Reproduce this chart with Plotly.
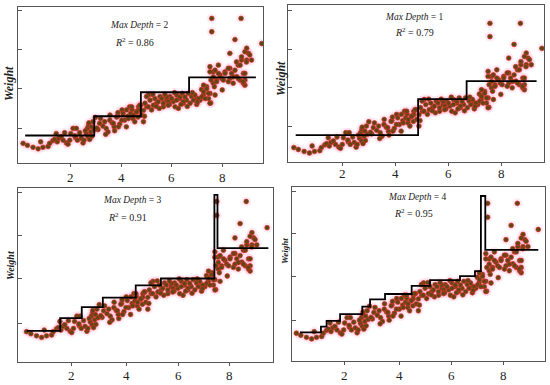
import plotly.graph_objects as go

# ---- scatter data (length vs weight), shared by all four panels ----
length = [0.16, 0.33, 0.55, 0.75, 0.85, 0.94, 1.14, 1.20, 1.33, 1.40, 1.50, 1.46, 1.56, 1.73, 1.79,
          1.86, 1.92, 1.99, 2.03, 2.12, 2.21, 2.25, 2.29, 2.38, 2.44, 2.51, 2.55, 2.64, 2.68, 2.71,
          2.73, 2.74, 2.77, 2.81, 2.84, 2.86, 2.90, 2.94, 2.99, 3.10, 3.16, 3.20, 3.29, 3.36, 3.42,
          3.49, 3.56, 3.65, 3.73, 3.75, 3.86, 3.88, 3.95, 4.04, 4.08, 4.14, 4.21, 4.27, 4.34, 4.38,
          4.43, 4.47, 4.54, 4.60, 4.67, 4.69, 4.77, 4.80, 4.22, 4.42, 4.48, 4.29, 4.03, 3.83, 3.70,
          3.57, 3.90, 4.88, 5.01, 5.20, 5.40, 5.53, 5.66, 5.79, 5.92, 6.05, 6.18, 6.31, 6.44, 6.57,
          6.77, 6.97, 7.10, 7.23, 7.43, 7.49, 7.36, 7.62, 7.75, 7.88, 8.08, 8.27, 8.40, 8.54, 8.67,
          8.80, 8.93, 9.00, 8.93, 8.27, 8.73, 8.86, 7.62, 7.49, 7.82, 8.60, 8.80, 8.86, 8.27, 7.52,
          7.16, 7.56, 7.56, 8.71, 8.47, 9.52, 8.53, 8.86, 9.05, 9.12, 8.73, 8.92, 8.67, 8.47, 8.34,
          8.21, 8.08, 7.95, 7.82, 7.69, 7.62, 7.49, 7.53, 7.75, 8.02, 8.21, 8.40, 8.60, 8.79, 8.86,
          7.97, 7.66, 7.36, 7.43, 7.24, 7.17, 7.30, 7.49, 7.03, 6.90, 6.84, 6.71, 6.51, 6.44, 6.31,
          6.18, 6.12, 5.99, 5.86, 5.79, 5.66, 5.60, 5.46, 5.33, 5.27, 5.14, 5.07, 4.94, 4.88, 4.74,
          4.68, 4.61, 6.25, 6.97, 6.64, 7.69, 7.24, 5.08, 5.25, 5.50, 5.72, 5.90, 6.10, 6.35, 6.60,
          6.80, 5.00, 4.92, 5.38, 5.85, 6.40, 7.00, 3.05, 3.40, 2.60, 2.20, 1.65]
weight = [0.61, 0.56, 0.51, 0.47, 0.65, 0.51, 0.53, 0.61, 0.68, 0.71, 0.65, 0.86, 0.74, 0.69, 0.88,
          0.62, 0.59, 0.69, 0.86, 0.99, 0.76, 0.99, 0.69, 0.88, 0.74, 0.62, 0.69, 0.85, 0.99, 0.78,
          1.07, 1.13, 0.71, 0.90, 1.03, 0.79, 1.16, 0.95, 1.27, 0.96, 1.12, 1.24, 1.05, 1.16, 0.99,
          0.90, 1.20, 1.13, 1.03, 0.93, 1.30, 1.39, 1.10, 1.46, 1.37, 1.20, 1.03, 1.30, 1.54, 1.37,
          1.47, 1.24, 1.16, 1.41, 1.28, 1.54, 1.58, 1.33, 1.46, 1.54, 1.33, 1.24, 1.20, 1.28, 1.12,
          1.33, 1.03, 1.16, 1.54, 1.46, 1.63, 1.80, 1.54, 1.71, 1.80, 1.67, 1.84, 1.75, 1.63, 1.71,
          1.80, 1.75, 1.71, 1.84, 1.75, 1.88, 2.05, 2.14, 2.22, 2.35, 2.43, 2.52, 2.14, 2.31, 2.22,
          2.39, 2.73, 2.90, 3.03, 2.90, 2.73, 2.09, 2.43, 2.56, 2.60, 2.60, 2.14, 2.22, 2.26, 1.64,
          1.98, 3.79, 3.45, 3.79, 3.25, 3.15, 2.68, 2.94, 2.86, 2.73, 2.81, 2.68, 2.60, 2.47, 2.39,
          2.52, 2.39, 2.26, 2.39, 2.47, 2.30, 2.43, 2.22, 2.18, 2.22, 2.18, 2.30, 2.26, 2.18, 2.39,
          1.97, 2.05, 2.00, 1.88, 1.92, 1.79, 1.75, 1.63, 1.75, 1.84, 1.71, 1.63, 1.79, 1.67, 1.79,
          1.71, 1.54, 1.75, 1.67, 1.79, 1.63, 1.75, 1.67, 1.75, 1.58, 1.71, 1.54, 1.63, 1.45, 1.58,
          1.45, 1.41, 1.50, 1.60, 1.88, 1.84, 2.09, 1.84, 1.85, 1.50, 1.85, 1.60, 1.90, 1.60, 1.55,
          1.90, 1.80, 1.30, 1.55, 1.58, 1.88, 1.66, 1.00, 0.84, 0.93, 0.80, 0.78]

# ---- regression-tree step predictions per panel ----
tree_x = {
    "Max Depth = 2": [0.24, 2.95, 4.78, 6.67, 9.29],
    "Max Depth = 1": [0.23, 4.85, 6.68, 9.32],
    "Max Depth = 3": [0.17, 1.47, 2.31, 3.13, 4.41, 5.39, 7.47, 7.59, 9.57],
    "Max Depth = 4": [0.30, 1.11, 1.33, 1.85, 2.71, 3.01, 3.59, 4.62, 5.33, 6.49, 7.07, 7.30, 7.47, 9.52],
}
tree_y = {
    "Max Depth = 2": [0.81, 1.30, 1.91, 2.29, 2.29],
    "Max Depth = 1": [0.93, 1.85, 2.31, 2.31],
    "Max Depth = 3": [0.63, 0.94, 1.21, 1.44, 1.74, 1.91, 3.95, 2.65, 2.65],
    "Max Depth = 4": [0.63, 0.77, 0.91, 1.08, 1.26, 1.44, 1.57, 1.77, 1.91, 2.01, 2.13, 3.97, 2.65, 2.65],
}
depths = ["Max Depth = 2", "Max Depth = 1", "Max Depth = 3", "Max Depth = 4"]
r2 = ["0.86", "0.79", "0.91", "0.95"]
tick_labels = ["2", "4", "6", "8"]

W, H = 550, 385
def px(x): return x / W
def py(y): return 1 - y / H

# panel layout: pixel frame, axis ranges, tick positions, text pixel positions
panels = [
    dict(frame=(18, 263, 7, 163), xr=[-0.04, 9.57], yr=[0.11, 4.08],
         xt=[2, 4, 6, 8], yt=[1, 2, 3, 4], xlab_y=177,
         txt=(139, 25, 113, 42), wlab=(9, 84, 12)),
    dict(frame=(288, 544, 5, 162), xr=[-0.06, 9.6], yr=[0.24, 4.26],
         xt=[2, 4, 6, 8], yt=[1.14, 2.14, 3.13, 4.12], xlab_y=174,
         txt=(414, 17, 393, 32), wlab=(281, 79, 12)),
    dict(frame=(18, 273, 188, 362), xr=[-0.17, 9.75], yr=[-0.13, 4.12],
         xt=[1.93, 4.04, 6.06, 8.04], yt=[0.82, 1.90, 2.95, 4.0], xlab_y=375,
         txt=(132, 200, 106, 217), wlab=(10, 265, 10)),
    dict(frame=(292, 545, 187, 361), xr=[-0.01, 9.78], yr=[-0.07, 4.19],
         xt=[2.04, 4.14, 6.17, 8.18], yt=[0.91, 1.99, 3.04, 4.09], xlab_y=375,
         txt=(417, 197, 392, 213), wlab=(285, 251, 9)),
]

fig = go.Figure()
serif = "Liberation Serif, Times New Roman, serif"
annotations = []

for i, p in enumerate(panels):
    n = "" if i == 0 else str(i + 1)
    xa, ya = "x" + n, "y" + n
    x0, x1, y0, y1 = p["frame"]
    # pink halo around the points
    fig.add_trace(go.Scatter(x=length, y=weight, mode="markers", xaxis=xa, yaxis=ya,
                             marker=dict(size=10, color="rgba(255,150,200,0.18)", line=dict(width=0)),
                             hoverinfo="skip", showlegend=False))
    fig.add_trace(go.Scatter(x=length, y=weight, mode="markers", xaxis=xa, yaxis=ya,
                             marker=dict(size=4.8, color="#5f4614", line=dict(color="#d8302a", width=0.7)),
                             showlegend=False))
    fig.add_trace(go.Scatter(x=tree_x[depths[i]], y=tree_y[depths[i]], mode="lines",
                             line=dict(color="black", width=1.8, shape="hv"),
                             xaxis=xa, yaxis=ya, showlegend=False))
    axis_common = dict(showgrid=False, zeroline=False, showline=True, mirror=True,
                       linecolor="#555555", linewidth=1)
    fig.layout["xaxis" + n] = dict(domain=[px(x0), px(x1)], range=p["xr"], anchor=ya,
                                   tickvals=p["xt"], showticklabels=False, ticks="outside",
                                   ticklen=3, tickcolor="#555555", **axis_common)
    fig.layout["yaxis" + n] = dict(domain=[py(y1), py(y0)], range=p["yr"], anchor=xa,
                                   tickvals=p["yt"], showticklabels=False, ticks="inside",
                                   ticklen=4, tickcolor="#555555", **axis_common)
    # x tick labels placed at the axis' own tick values
    for tv, tl in zip(p["xt"], tick_labels):
        annotations.append(dict(x=tv, y=py(p["xlab_y"]), xref=xa, yref="paper", showarrow=False,
                                text=tl, font=dict(family=serif, size=13, color="#222222"),
                                xanchor="center", yanchor="middle"))
    tx, ty, rx, ry = p["txt"]
    annotations.append(dict(x=px(tx), y=py(ty), xref="paper", yref="paper", showarrow=False,
                            text="<i>Max Depth</i> = " + depths[i].split("= ")[1],
                            font=dict(family=serif, size=9.5, color="#222222"),
                            xanchor="center", yanchor="middle"))
    annotations.append(dict(x=px(rx), y=py(ry), xref="paper", yref="paper", showarrow=False,
                            text="<i>R</i><sup>2</sup> = " + r2[i],
                            font=dict(family=serif, size=10, color="#222222"),
                            xanchor="left", yanchor="middle"))
    wx, wy, ws = p["wlab"]
    annotations.append(dict(x=px(wx), y=py(wy), xref="paper", yref="paper", showarrow=False,
                            text="<b><i>Weight</i></b>", textangle=-90,
                            font=dict(family=serif, size=ws, color="#222222"),
                            xanchor="center", yanchor="middle"))

fig.update_layout(width=W, height=H, margin=dict(l=0, r=0, t=0, b=0),
                  paper_bgcolor="white", plot_bgcolor="white", showlegend=False,
                  annotations=annotations)
fig.write_html("out.html", config={"displayModeBar": False},
               post_script="document.body.style.margin='0';document.body.style.padding='0';"
                           "document.documentElement.style.overflow='hidden';")
